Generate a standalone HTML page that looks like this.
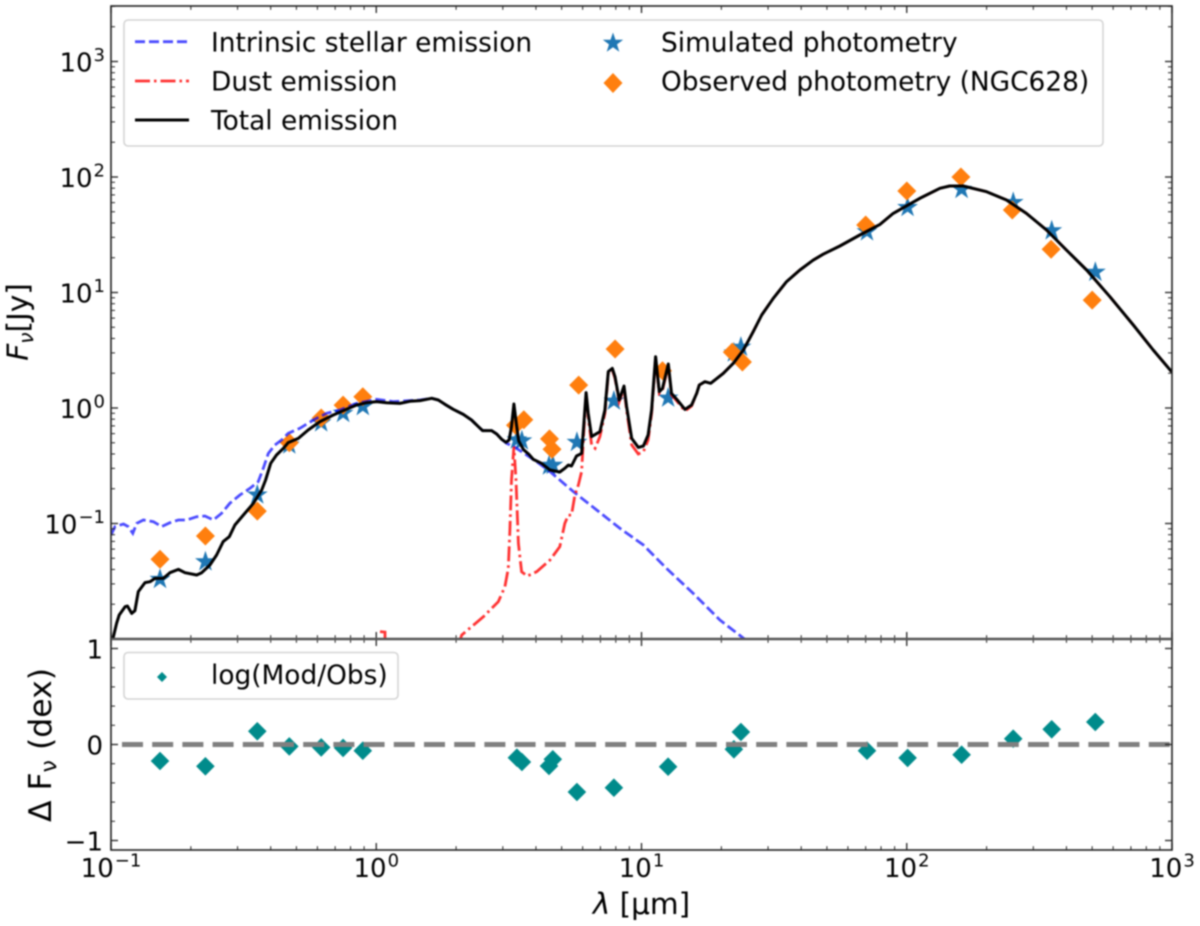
<!DOCTYPE html>
<html lang="en">
<head>
<meta charset="utf-8">
<title>NGC628 spectral energy distribution</title>
<style>
html,body{margin:0;padding:0;background:#fff;width:1200px;height:926px;overflow:hidden}
svg{display:block;filter:blur(0.75px)}
text{font-family:"DejaVu Sans","Liberation Sans",sans-serif;fill:#000}
.tick-label{font-size:26px}
.legend-text{font-size:26.4px}
.axis-title{font-size:29.5px}
</style>
</head>
<body>
<svg id="chart" xmlns="http://www.w3.org/2000/svg" width="1200" height="926" viewBox="0 0 1200 926">
  <defs>
    <clipPath id="clip-top"><rect x="111" y="6" width="1061" height="633"/></clipPath>
    <clipPath id="clip-bottom"><rect x="111" y="639" width="1061" height="211"/></clipPath>
  </defs>
  <g id="top-marks" clip-path="url(#clip-top)"></g>
  <g id="bottom-marks" clip-path="url(#clip-bottom)"></g>
  <g id="ticks"></g>
  <g id="tick-labels"></g>

  <rect x="111" y="6" width="1061" height="633" fill="none" stroke="#222" stroke-width="1.6"/>
  <rect x="111" y="639" width="1061" height="211" fill="none" stroke="#222" stroke-width="1.6"/>
  <line x1="111" x2="1172" y1="639" y2="639" stroke="#555" stroke-width="2.6"/>

  <text class="axis-title" transform="rotate(-90 28 322)" x="28" y="322" text-anchor="middle"><tspan font-style="italic">F</tspan><tspan font-style="italic" font-size="20.5" dy="5">ν</tspan><tspan dy="-5">[Jy]</tspan></text>
  <text class="axis-title" style="font-size:31.5px" transform="rotate(-90 51 745)" x="51" y="745" text-anchor="middle">Δ F<tspan font-size="22" dy="5">ν</tspan><tspan dy="-5"> (dex)</tspan></text>
  <text class="axis-title" x="641.5" y="914" text-anchor="middle"><tspan font-style="italic">λ</tspan> [μm]</text>

  <g>
    <rect x="124" y="20" width="979" height="126" rx="4" fill="#fff" fill-opacity="0.8" stroke="#d4d4d4" stroke-width="1.6"/>
    <line x1="135" x2="189" y1="41.7" y2="41.7" stroke="#0000ff" stroke-opacity="0.7" stroke-width="2.8" stroke-dasharray="10 4"/>
    <text class="legend-text" x="211" y="51.5">Intrinsic stellar emission</text>
    <line x1="135" x2="189" y1="81" y2="81" stroke="#ff0000" stroke-opacity="0.8" stroke-width="2.8" stroke-dasharray="15 4 2.5 4"/>
    <text class="legend-text" x="211" y="90.5">Dust emission</text>
    <line x1="135" x2="189" y1="120" y2="120" stroke="#000" stroke-width="3"/>
    <text class="legend-text" x="211" y="129.5">Total emission</text>
    <polygon fill="#1f77b4" points="613,32.5 615.5,39.8 623.2,39.8 617,44.4 619.3,51.8 613,47.3 606.7,51.8 609,44.4 602.8,39.8 610.5,39.8"/>
    <text class="legend-text" x="661" y="51.5">Simulated photometry</text>
    <polygon fill="#ff7f0e" points="613,73 622.5,83 613,93 603.5,83"/>
    <text class="legend-text" x="661" y="90.5">Observed photometry (NGC628)</text>
  </g>

  <g>
    <rect x="124" y="652.5" width="274" height="46.5" rx="4" fill="#fff" fill-opacity="0.8" stroke="#d4d4d4" stroke-width="1.6"/>
    <polygon fill="#008b8b" points="162,672 167,677 162,682 157,677"/>
    <text class="legend-text" x="211" y="684">log(Mod/Obs)</text>
  </g>
</svg>

<script>
// Photometry: wavelength in micron, flux in Jy
const observedWavelength = [0.153,0.227,0.356,0.47,0.62,0.75,0.89,3.35,3.6,4.5,4.6,5.8,7.95,12,22,24,70,100,160,250,350,500];
const observedFlux = [0.049,0.078,0.128,0.50,0.82,1.06,1.25,0.71,0.79,0.54,0.44,1.58,3.24,2.10,3.05,2.50,38.4,75.7,100,51.8,23.7,8.6];
const simulatedWavelength = [0.153,0.227,0.356,0.47,0.62,0.75,0.89,3.39,3.54,4.48,4.63,5.71,7.87,12.6,22.3,23.7,70.8,100.7,161,252,352,514];
const simulatedFlux = [0.0329,0.0467,0.177,0.48,0.746,0.90,1.03,0.53,0.52,0.315,0.32,0.505,1.15,1.22,3.0,3.37,33.6,54.6,78.2,60.3,34.3,15];
const residualDex = [-0.172,-0.227,0.137,-0.02,-0.03,-0.035,-0.065,-0.137,-0.182,-0.224,-0.154,-0.495,-0.45,-0.231,-0.05,0.13,-0.065,-0.14,-0.106,0.06,0.158,0.234];

// Model curves: log10(wavelength / micron) and log10(flux / Jy)
const totalLogWave = [
-0.995,-0.979,-0.969,-0.947,-0.938,-0.922,-0.910,-0.897,-0.872,-0.853,
-0.834,-0.803,-0.778,-0.746,-0.721,-0.677,-0.658,-0.627,-0.602,-0.577,
-0.554,-0.533,-0.501,-0.463,-0.432,-0.417,-0.398,-0.376,-0.350,-0.332,
-0.294,-0.256,-0.212,-0.162,-0.112,-0.074,-0.036,0.001,0.039,0.089,
0.127,0.165,0.209,0.234,0.259,0.290,0.328,0.359,0.385,0.401,
0.435,0.454,0.473,0.489,0.501,0.510,0.519,0.528,0.537,0.555,
0.575,0.592,0.623,0.655,0.692,0.711,0.724,0.736,0.755,0.774,
0.783,0.791,0.799,0.812,0.843,0.862,0.875,0.890,0.900,0.916,
0.934,0.944,0.963,0.988,1.007,1.025,1.038,1.053,1.067,1.079,
1.101,1.113,1.135,1.164,1.189,1.208,1.218,1.239,1.261,1.308,
1.346,1.384,1.421,1.453,1.497,1.547,1.597,1.647,1.685,1.748,
1.823,1.899,1.949,2.049,2.125,2.162,2.213,2.301,2.376,2.451,
2.527,2.602,2.678,2.766,2.854,2.929,3.000];
const totalLogFlux = [
-2.020,-1.864,-1.792,-1.720,-1.714,-1.778,-1.755,-1.590,-1.512,-1.504,
-1.475,-1.475,-1.426,-1.397,-1.426,-1.446,-1.426,-1.359,-1.273,-1.157,
-1.114,-1.013,-0.926,-0.825,-0.710,-0.623,-0.479,-0.407,-0.349,-0.300,
-0.263,-0.190,-0.118,-0.061,-0.011,0.026,0.046,0.055,0.046,0.040,
0.058,0.064,0.084,0.069,0.032,-0.011,-0.055,-0.104,-0.162,-0.196,
-0.196,-0.225,-0.271,-0.297,-0.277,-0.162,0.035,-0.133,-0.285,-0.360,
-0.400,-0.445,-0.479,-0.537,-0.554,-0.522,-0.494,-0.502,-0.416,-0.393,
-0.133,0.133,-0.046,-0.248,-0.205,-0.017,0.315,0.343,0.271,0.069,
0.190,0.012,-0.263,-0.341,-0.329,-0.234,-0.017,0.444,0.141,0.170,
0.381,0.127,0.069,-0.012,0.026,0.127,0.199,0.228,0.214,0.300,
0.387,0.502,0.661,0.805,0.950,1.094,1.195,1.280,1.332,1.403,
1.498,1.590,1.685,1.815,1.902,1.922,1.922,1.873,1.801,1.685,
1.541,1.368,1.195,0.964,0.719,0.502,0.310];

const stellarLogWave = [
-1.000,-0.985,-0.953,-0.935,-0.918,-0.903,-0.878,-0.840,-0.809,-0.778,
-0.746,-0.715,-0.677,-0.646,-0.614,-0.583,-0.552,-0.514,-0.476,-0.445,
-0.426,-0.407,-0.382,-0.357,-0.332,-0.288,-0.237,-0.187,-0.137,-0.074,
0.001,0.064,0.165,0.209,0.234,0.259,0.290,0.328,0.359,0.385,
0.401,0.435,0.454,0.473,0.491,0.523,0.567,0.605,0.655,0.743,
0.831,0.919,1.007,1.094,1.195,1.296,1.390,1.450];
const stellarLogFlux = [
-1.099,-1.027,-1.004,-1.027,-1.085,-0.999,-0.970,-0.984,-1.027,-0.993,
-0.970,-0.970,-0.941,-0.935,-0.970,-0.912,-0.825,-0.753,-0.695,-0.638,
-0.522,-0.393,-0.320,-0.277,-0.219,-0.176,-0.104,-0.046,-0.017,0.040,
0.075,0.055,0.069,0.084,0.069,0.032,-0.011,-0.055,-0.104,-0.162,
-0.196,-0.196,-0.225,-0.271,-0.306,-0.340,-0.407,-0.465,-0.551,-0.724,
-0.883,-1.042,-1.186,-1.388,-1.605,-1.836,-2.003,-2.200];

const dustLogWave = [
0.014,0.033,0.033,0.045,0.250,0.322,0.404,0.460,0.485,0.498,
0.504,0.510,0.519,0.527,0.536,0.548,0.569,0.605,0.655,0.692,
0.711,0.724,0.736,0.749,0.762,0.774,0.783,0.791,0.799,0.812,
0.825,0.843,0.862,0.875,0.890,0.900,0.916,0.934,0.944,0.963,
0.988,1.007,1.025,1.038,1.053,1.067,1.079,1.101,1.113,1.135,
1.164,1.189,1.208,1.218,1.239,1.261,1.308,1.346,1.384,1.421,
1.453,1.497,1.547,1.597,1.647,1.685,1.748,1.823,1.899,1.949,
2.049,2.125,2.162,2.213,2.301,2.376,2.451,2.527,2.602,2.678,
2.766,2.854,2.929,3.000];
const dustLogFlux = [
-1.936,-1.940,-2.000,-2.500,-2.500,-1.965,-1.807,-1.677,-1.547,-1.388,
-1.056,-0.623,-0.335,-0.623,-1.172,-1.417,-1.455,-1.417,-1.316,-1.201,
-0.999,-0.927,-0.927,-0.753,-0.666,-0.551,-0.190,0.113,-0.075,-0.320,
-0.349,-0.248,-0.046,0.300,0.329,0.257,0.055,0.170,-0.017,-0.320,
-0.398,-0.378,-0.277,-0.046,0.430,0.127,0.156,0.366,0.113,0.055,
-0.026,0.017,0.127,0.199,0.228,0.214,0.300,0.387,0.502,0.661,
0.805,0.950,1.094,1.195,1.280,1.332,1.403,1.498,1.590,1.685,
1.815,1.902,1.922,1.922,1.873,1.801,1.685,1.541,1.368,1.195,
0.964,0.719,0.502,0.310];

// Axis ticks
const xDecades = [-1,0,1,2,3];
const yDecades = [-1,0,1,2,3];
const yMinorDecades = [-2,-1,0,1,2,3];
const xExponentLabels = ['\u22121','0','1','2','3'];
const yExponentLabels = ['\u22121','0','1','2','3'];
const residualMajor = [-1,0,1];
const residualMajorLabels = ['\u22121','0','1'];
const residualMinor = [-0.8,-0.6,-0.4,-0.2,0.2,0.4,0.6,0.8];
const baselineRange = [0.11,1000];
const baselineValue = 0;

// Axis functions
const xLog = l => 111 + 265.25 * (l + 1);
const xPos = w => xLog(Math.log10(w));
const yLog = f => 408 - 115.5 * f;
const yPos = v => yLog(Math.log10(v));
const yRes = d => 744.5 - 96 * d;

const NS = 'http://www.w3.org/2000/svg';
const topG = document.getElementById('top-marks');
const botG = document.getElementById('bottom-marks');
const tickG = document.getElementById('ticks');
const labelG = document.getElementById('tick-labels');

function make(tag, parent, props) {
  const el = document.createElementNS(NS, tag);
  for (const k in props) el.setAttribute(k, props[k]);
  parent.appendChild(el);
  return el;
}
function starPoints(cx, cy, R) {
  const r = R * 0.382, p = [];
  for (let i = 0; i < 10; i++) {
    const a = -Math.PI / 2 + i * Math.PI / 5, q = i % 2 ? r : R;
    p.push((cx + q * Math.cos(a)).toFixed(1) + ',' + (cy + q * Math.sin(a)).toFixed(1));
  }
  return p.join(' ');
}
function diamondPoints(cx, cy, R) {
  return [cx, cy - R, cx + R, cy, cx, cy + R, cx - R, cy].map(v => v.toFixed(1)).join(' ');
}
function curvePath(xs, ys) {
  return xs.map((x, i) => (i ? 'L' : 'M') + xLog(x).toFixed(1) + ' ' + yLog(ys[i]).toFixed(1)).join('');
}

// Simulated photometry stars
simulatedWavelength.forEach((w, i) => {
  const el = make('polygon', topG, {points: starPoints(xPos(w), yPos(simulatedFlux[i]), 11), fill: '#1f77b4'});
  
  
});
// Observed photometry diamonds
observedWavelength.forEach((w, i) => {
  const el = make('polygon', topG, {points: diamondPoints(xPos(w), yPos(observedFlux[i]), 9.5), fill: '#ff7f0e'});
  
  
});
// Model curves
const stellarLine = make('path', topG, {d: curvePath(stellarLogWave, stellarLogFlux), fill: 'none', stroke: '#0000ff', 'stroke-opacity': 0.7, 'stroke-width': 2.8, 'stroke-dasharray': '10 4'});


const dustLine = make('path', topG, {d: curvePath(dustLogWave, dustLogFlux), fill: 'none', stroke: '#ff0000', 'stroke-opacity': 0.8, 'stroke-width': 2.8, 'stroke-dasharray': '15 4 2.5 4'});


const totalLine = make('path', topG, {d: curvePath(totalLogWave, totalLogFlux), fill: 'none', stroke: '#000', 'stroke-width': 3, 'stroke-linejoin': 'round'});



// Residual panel
residualDex.forEach((d, i) => {
  const el = make('polygon', botG, {points: diamondPoints(xPos(simulatedWavelength[i]), yRes(d), 9.3), fill: '#008b8b'});
  
  
});
const baseline = make('line', botG, {x1: xPos(baselineRange[0]), x2: xPos(baselineRange[1]), y1: yRes(baselineValue), y2: yRes(baselineValue), stroke: '#808080', 'stroke-width': 5, 'stroke-dasharray': '21 9.2'});



// Ticks
function tick(x1, y1, x2, y2, w) {
  const el = make('line', tickG, {x1, y1, x2, y2, stroke: '#222', 'stroke-width': w});
  
  
}
function xTicksAt(x, len, w) {
  tick(x, 6, x, 6 + len, w);
  tick(x, 639, x, 639 - len, w);
  tick(x, 639, x, 639 + len, w);
  tick(x, 850, x, 850 - len, w);
}
xDecades.forEach(d => {
  xTicksAt(xLog(d), 7, 1.3);
  if (d < 3) for (let m = 2; m < 10; m++) xTicksAt(xLog(d + Math.log10(m)), 3.8, 1);
});
yMinorDecades.forEach(d => {
  for (let m = 2; m < 10; m++) {
    const l = d + Math.log10(m);
    if (yLog(l) > 6) {
      tick(111, yLog(l), 115, yLog(l), 1);
      tick(1172, yLog(l), 1168, yLog(l), 1);
    }
  }
});
yDecades.forEach(d => {
  tick(111, yLog(d), 118, yLog(d), 1.3);
  tick(1172, yLog(d), 1165, yLog(d), 1.3);
});
residualMajor.forEach(v => {
  tick(111, yRes(v), 118, yRes(v), 1.3);
  tick(1172, yRes(v), 1165, yRes(v), 1.3);
});
residualMinor.forEach(v => {
  tick(111, yRes(v), 115, yRes(v), 1);
  tick(1172, yRes(v), 1168, yRes(v), 1);
});

// Tick labels
function powerLabel(x, y, anchor, exponent, name) {
  const t = make('text', labelG, {x, y, 'text-anchor': anchor, class: 'tick-label'});
  
  
  t.appendChild(document.createTextNode('10'));
  const s = make('tspan', t, {'font-size': 18, dy: -10.5, dx: 1});
  s.textContent = exponent;
}
xDecades.forEach((d, i) => powerLabel(xLog(d), 877, 'middle', xExponentLabels[i], 'x-tick-label'));
yDecades.forEach((d, i) => powerLabel(105, yLog(d) + 10, 'end', yExponentLabels[i], 'y-tick-label'));
residualMajor.forEach((v, i) => {
  const t = make('text', labelG, {x: 103, y: yRes(v) + 10, 'text-anchor': 'end', class: 'tick-label'});
  
  
  t.textContent = residualMajorLabels[i];
});
</script>
</body>
</html>
